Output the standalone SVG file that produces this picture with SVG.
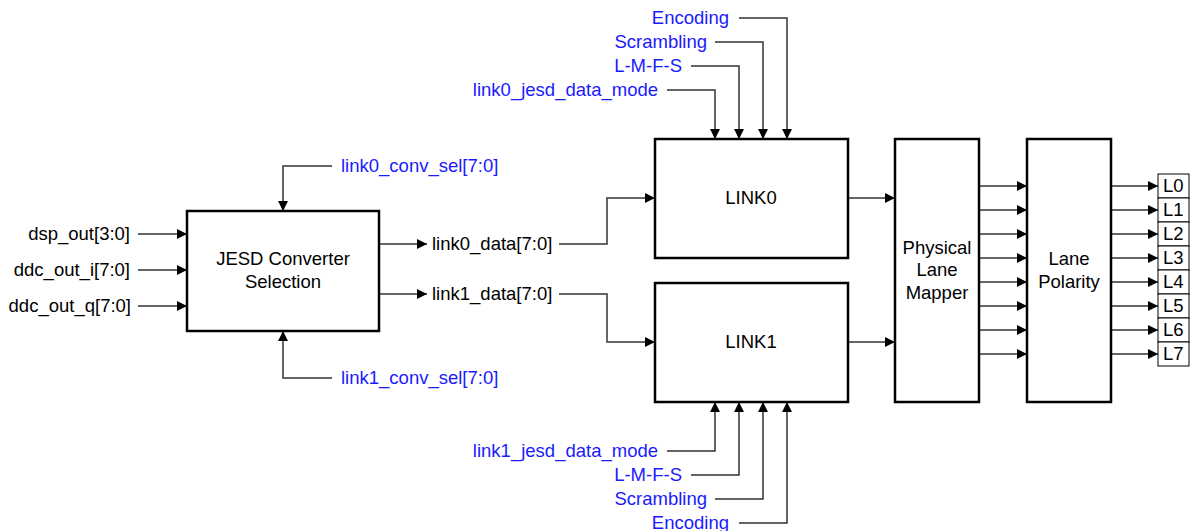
<svg xmlns="http://www.w3.org/2000/svg" width="1190" height="531" viewBox="0 0 1190 531">
<style>
.box{fill:#fff;stroke:#000;stroke-width:2.5}
.lbl{fill:#fff;stroke:#000;stroke-width:1}
.w{fill:none;stroke:#333;stroke-width:1.5}
.wa{fill:none;stroke:#333;stroke-width:1.5;marker-end:url(#ah)}
text{font-family:"Liberation Sans",Arial,sans-serif;font-size:18.5px}
.k{fill:#000}
.b{fill:#1a1aff}
.m{text-anchor:middle}
.e{text-anchor:end}
</style>
<defs>
<marker id="ah" viewBox="0 0 10 10" refX="10" refY="5" markerWidth="10" markerHeight="10" markerUnits="userSpaceOnUse" orient="auto">
<path d="M0,0 L10,5 L0,10 Z" fill="#000"/>
</marker>
</defs>
<g id="connectors">
<path class="wa" d="M138,234 H187"/>
<path class="wa" d="M138,270 H187"/>
<path class="wa" d="M138,306 H187"/>
<path class="wa" d="M332,166 H283 V211"/>
<path class="wa" d="M332,378 H283 V331"/>
<path class="wa" d="M379,244 H427"/>
<path class="wa" d="M379,294 H427"/>
<path class="wa" d="M559,244 H607 V198 H655"/>
<path class="wa" d="M559,294 H607 V342 H655"/>
<path class="wa" d="M667,90 H715 V139"/>
<path class="wa" d="M691,66 H739 V139"/>
<path class="wa" d="M715,42 H763 V139"/>
<path class="wa" d="M739,18 H787 V139"/>
<path class="wa" d="M667,451 H715 V402"/>
<path class="wa" d="M691,475 H739 V402"/>
<path class="wa" d="M715,499 H763 V402"/>
<path class="wa" d="M739,523 H787 V402"/>
<path class="wa" d="M848,198 H895"/>
<path class="wa" d="M848,342 H895"/>
<path class="wa" d="M979,186 H1027"/>
<path class="wa" d="M979,210 H1027"/>
<path class="wa" d="M979,234 H1027"/>
<path class="wa" d="M979,258 H1027"/>
<path class="wa" d="M979,282 H1027"/>
<path class="wa" d="M979,306 H1027"/>
<path class="wa" d="M979,330 H1027"/>
<path class="wa" d="M979,354 H1027"/>
<path class="wa" d="M1111,186 H1158"/>
<path class="wa" d="M1111,210 H1158"/>
<path class="wa" d="M1111,234 H1158"/>
<path class="wa" d="M1111,258 H1158"/>
<path class="wa" d="M1111,282 H1158"/>
<path class="wa" d="M1111,306 H1158"/>
<path class="wa" d="M1111,330 H1158"/>
<path class="wa" d="M1111,354 H1158"/>
</g>
<g id="inputs">
<text class="k e" x="130" y="240">dsp_out[3:0]</text>
<text class="k e" x="130" y="276">ddc_out_i[7:0]</text>
<text class="k e" x="131" y="312">ddc_out_q[7:0]</text>
</g>
<g id="jesd">
<rect class="box" x="187" y="211" width="192" height="120"/>
<text class="k m" x="283" y="265">JESD Converter</text>
<text class="k m" x="283" y="288">Selection</text>
</g>
<g id="conv-sel">
<text class="b" x="341" y="172">link0_conv_sel[7:0]</text>
<text class="b" x="341" y="384">link1_conv_sel[7:0]</text>
</g>
<g id="data-labels">
<text class="k" x="432" y="250">link0_data[7:0]</text>
<text class="k" x="432" y="300">link1_data[7:0]</text>
</g>
<g id="link0-params">
<text class="b e" x="658" y="96">link0_jesd_data_mode</text>
<text class="b e" x="682" y="72">L-M-F-S</text>
<text class="b e" x="707" y="48">Scrambling</text>
<text class="b e" x="729" y="24">Encoding</text>
</g>
<g id="link1-params">
<text class="b e" x="658" y="457">link1_jesd_data_mode</text>
<text class="b e" x="682" y="481">L-M-F-S</text>
<text class="b e" x="707" y="505">Scrambling</text>
<text class="b e" x="729" y="529">Encoding</text>
</g>
<g id="link0">
<rect class="box" x="655" y="139" width="193" height="119"/>
<text class="k m" x="751" y="204">LINK0</text>
</g>
<g id="link1">
<rect class="box" x="655" y="283" width="193" height="119"/>
<text class="k m" x="751" y="348">LINK1</text>
</g>
<g id="plm">
<rect class="box" x="895" y="139" width="84" height="263"/>
<text class="k m" x="937" y="254">Physical</text>
<text class="k m" x="937" y="276">Lane</text>
<text class="k m" x="937" y="299">Mapper</text>
</g>
<g id="polarity">
<rect class="box" x="1027" y="139" width="84" height="263"/>
<text class="k m" x="1069" y="265">Lane</text>
<text class="k m" x="1069" y="288">Polarity</text>
</g>
<g id="lanes">
<rect class="lbl" x="1158" y="174" width="31" height="24"/>
<rect class="lbl" x="1158" y="198" width="31" height="24"/>
<rect class="lbl" x="1158" y="222" width="31" height="24"/>
<rect class="lbl" x="1158" y="246" width="31" height="24"/>
<rect class="lbl" x="1158" y="270" width="31" height="24"/>
<rect class="lbl" x="1158" y="294" width="31" height="24"/>
<rect class="lbl" x="1158" y="318" width="31" height="24"/>
<rect class="lbl" x="1158" y="342" width="31" height="24"/>
<text class="k" x="1163" y="192">L0</text>
<text class="k" x="1163" y="216">L1</text>
<text class="k" x="1163" y="240">L2</text>
<text class="k" x="1163" y="264">L3</text>
<text class="k" x="1163" y="288">L4</text>
<text class="k" x="1163" y="312">L5</text>
<text class="k" x="1163" y="336">L6</text>
<text class="k" x="1163" y="360">L7</text>
</g>
</svg>
